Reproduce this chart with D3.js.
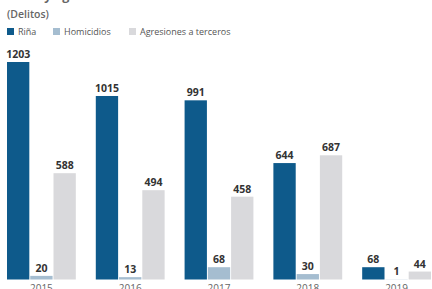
<!DOCTYPE html>
<html>
<head>
<meta charset="utf-8">
<script src="https://cdn.jsdelivr.net/npm/d3@7"></script>
<style>
  body { margin: 0; background: #fff; }
  svg { display: block; font-family: "Open Sans", "Noto Sans", sans-serif; }
</style>
</head>
<body>
<div id="chart"></div>
<script>
// grouped bars: three crime types per year

var W = 432, H = 289;

var years = ["2015", "2016", "2017", "2018", "2019"];
var series = ["Riña", "Homicidios", "Agresiones a terceros"];
var rina = [1203, 1015, 991, 644, 68];
var homicidios = [20, 13, 68, 30, 1];
var agresiones = [588, 494, 458, 687, 44];

var colors = ["#0e5a8b", "#a5bdd0", "#d9d9dc"];
var values = [rina, homicidios, agresiones];

var baseY = 279.5;
var topY = 62;

var svg = d3.select("#chart").append("svg")
  .attr("width", W)
  .attr("height", H);

// title, mostly cropped off the top of the picture
svg.append("text")
  .attr("x", 7).attr("y", -0.5)
  .attr("font-size", 12.5).attr("font-weight", 700)
  .attr("fill", "#666")
  .text("Riñas y agresiones en el centro");

svg.append("text")
  .attr("x", 7).attr("y", 18)
  .attr("font-size", 10.5).attr("font-weight", 600)
  .attr("fill", "#666")
  .text("(Delitos)");

// legend
var legendX = [7, 53, 129];
var legend = svg.selectAll(".legend")
  .data(series)
  .enter().append("g")
  .attr("class", "legend")
  .attr("transform", function(d, i) { return "translate(" + legendX[i] + ",28)"; });

legend.append("rect")
  .attr("width", 7).attr("height", 7)
  .attr("fill", function(d, i) { return colors[i]; });

legend.append("text")
  .attr("x", 11).attr("y", 7)
  .attr("font-size", 9)
  .attr("fill", "#555")
  .text(function(d) { return d; });

// scales
var x0 = d3.scaleBand()
  .domain(years)
  .range([7, 431])
  .paddingInner(0.225)
  .paddingOuter(0);

var x1 = d3.scaleBand()
  .domain(d3.range(series.length))
  .range([0, x0.bandwidth()])
  .paddingInner(0.04);

var y = d3.scaleLinear()
  .domain([0, 1203])
  .range([baseY, topY]);

var rows = years.map(function(yr, i) {
  return { year: yr, vals: values.map(function(v, s) { return { s: s, v: v[i] }; }) };
});

var group = svg.selectAll(".year")
  .data(rows)
  .enter().append("g")
  .attr("class", "year")
  .attr("transform", function(d) { return "translate(" + x0(d.year) + ",0)"; });

group.selectAll("rect")
  .data(function(d) { return d.vals; })
  .enter().append("rect")
  .attr("x", function(d) { return x1(d.s); })
  .attr("width", x1.bandwidth())
  .attr("y", function(d) { return y(d.v); })
  .attr("height", function(d) { return baseY - y(d.v); })
  .attr("fill", function(d) { return colors[d.s]; });

group.selectAll(".val")
  .data(function(d) { return d.vals; })
  .enter().append("text")
  .attr("class", "val")
  .attr("x", function(d) { return x1(d.s) + x1.bandwidth() / 2; })
  .attr("y", function(d) { return y(d.v) - 4; })
  .attr("text-anchor", "middle")
  .attr("font-size", 10.5).attr("font-weight", 700)
  .attr("fill", "#333")
  .text(function(d) { return d.v; });

// year labels, cut at the bottom edge
group.append("text")
  .attr("x", x0.bandwidth() / 2)
  .attr("y", 292)
  .attr("text-anchor", "middle")
  .attr("font-size", 10)
  .attr("fill", "#666")
  .text(function(d) { return d.year; });
</script>
</body>
</html>
